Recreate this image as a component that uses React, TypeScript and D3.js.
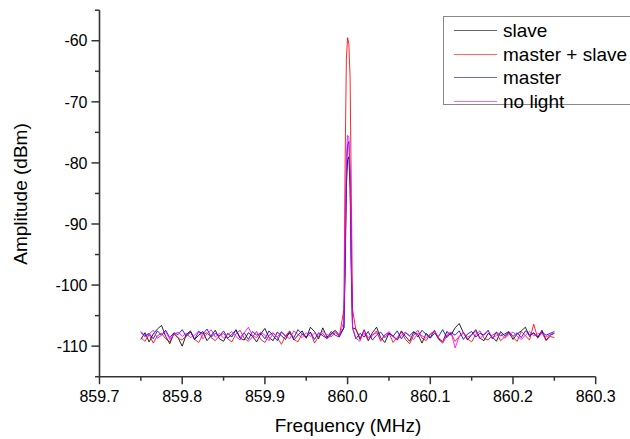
import React from "react";
import * as d3 from "d3";

// ---- data ----
const sweepStart = 859.75;
const sweepStep = 0.005;

const seriesNames = ["slave", "master + slave", "master", "no light"];
const seriesColors = ["#000000", "#ff0000", "#0000ff", "#ff00ff"];

const slaveNoise = [
  -108.9, -107.8, -109.3, -108.0, -107.2, -106.6, -108.4, -109.6, -107.9, -108.6,
  -110.0, -108.1, -107.5, -108.9, -108.2, -107.6, -109.1, -108.3, -107.4, -108.8,
  -109.2, -107.9, -108.5, -107.3, -108.7, -109.0, -107.8, -108.4, -109.3, -108.0,
  -107.1, -108.6, -109.1, -107.7, -108.3, -108.9, -107.6, -109.0, -108.2, -107.5,
  -108.7, -106.9, -107.6, -108.8, -107.0, -108.5, -108.0, -107.4, -108.2, -108.1,
  -108.0, -107.6, -107.2, -108.9, -107.3, -109.1, -107.8, -106.9, -108.6, -109.4,
  -107.9, -108.3, -109.0, -107.5, -108.4, -109.2, -107.7, -108.1, -109.5, -107.9,
  -108.6, -107.4, -108.8, -109.3, -107.6, -108.2, -107.0, -106.3, -107.8, -109.0,
  -108.1, -107.3, -108.7, -109.1, -107.9, -108.5, -109.2, -107.6, -108.3, -107.7,
  -108.9, -108.0, -107.5, -106.9, -108.4, -107.8, -108.6, -107.4, -109.0, -108.2,
  -107.9,
];
const masterSlaveNoise = [
  -108.6, -109.2, -108.1, -109.5, -108.3, -107.9, -108.8, -109.3, -108.0, -108.7,
  -109.0, -108.2, -107.6, -108.9, -109.4, -108.1, -107.8, -108.6, -109.1, -108.3,
  -107.9, -108.8, -109.3, -108.0, -107.4, -108.7, -109.2, -108.5, -107.6, -108.9,
  -109.4, -108.2, -107.8, -108.6, -109.7, -108.3, -107.5, -108.9, -109.3, -108.0,
  -108.6, -107.7, -109.5, -108.4, -107.9, -108.8, -108.2, -107.6, -108.4, -108.0,
  -108.0, -105.8, -107.3, -108.6, -107.9, -109.0, -108.3, -107.5, -109.2, -108.1,
  -107.8, -109.4, -108.6, -107.7, -108.9, -109.6, -108.2, -107.4, -108.7, -109.1,
  -108.0, -107.6, -108.9, -109.5, -108.3, -107.9, -109.2, -108.4, -107.7, -108.8,
  -109.3, -108.1, -107.5, -108.7, -109.0, -108.2, -107.8, -109.1, -108.5, -107.9,
  -108.6, -109.2, -107.6, -108.3, -109.0, -106.4, -108.7, -107.8, -109.1, -108.4,
  -108.6,
];
const masterNoise = [
  -107.6, -108.3, -107.9, -108.8, -107.5, -108.2, -107.4, -108.6, -107.8, -108.1,
  -107.3, -108.4, -107.7, -108.9, -107.6, -108.0, -107.2, -108.5, -107.9, -108.3,
  -107.5, -108.7, -108.1, -107.4, -108.6, -107.8, -108.9, -107.6, -108.2, -107.9,
  -108.8, -107.5, -108.3, -109.1, -107.7, -108.4, -107.9, -108.6, -107.3, -108.0,
  -108.5, -107.7, -108.9, -107.8, -108.3, -108.7, -107.6, -108.2, -108.5, -108.0,
  -108.0, -107.4, -108.8, -107.9, -108.5, -107.6, -109.0, -108.2, -107.7, -108.6,
  -107.9, -108.4, -107.5, -108.8, -107.8, -108.3, -107.6, -108.5, -107.4, -108.1,
  -108.7, -107.9, -108.4, -107.3, -108.6, -107.8, -108.2, -107.5, -108.9, -108.0,
  -107.6, -108.5, -107.9, -108.2, -107.4, -108.8, -107.7, -108.3, -108.0, -107.6,
  -108.4, -107.8, -108.6, -107.5, -108.1, -107.9, -108.5, -107.7, -108.2, -107.9,
  -107.6,
];
const noLightNoise = [
  -107.8, -108.5, -108.0, -107.4, -108.7, -108.2, -107.6, -108.9, -108.1, -107.7,
  -108.4, -107.9, -108.6, -108.2, -107.5, -108.8, -108.0, -107.3, -108.5, -107.9,
  -108.7, -108.1, -107.6, -108.4, -109.0, -107.8, -106.9, -108.3, -108.6, -107.7,
  -108.2, -109.1, -107.9, -108.5, -107.6, -108.3, -108.8, -107.5, -108.1, -108.6,
  -107.8, -108.4, -107.9, -108.2, -107.6, -108.1, -108.5, -107.8, -108.3, -108.0,
  -108.0, -107.9, -108.7, -109.2, -107.4, -108.6, -108.1, -107.8, -108.9, -108.3,
  -107.6, -108.5, -109.0, -108.2, -107.7, -108.4, -108.9, -107.9, -108.3, -108.7,
  -108.0, -107.5, -108.6, -109.3, -108.1, -107.7, -110.3, -108.4, -107.9, -108.5,
  -108.2, -107.6, -108.8, -108.0, -107.5, -108.6, -108.3, -107.9, -108.7, -108.1,
  -107.7, -108.4, -108.9, -108.2, -107.6, -108.3, -108.0, -107.8, -108.5, -108.1,
  -107.8,
];

const peakFreqs = [859.9955, 859.997, 859.9985, 860.0, 860.0015, 860.003, 860.0045, 860.006];
const slavePeak = [-107.0, -98.0, -84.0, -79.5, -79.0, -84.0, -98.0, -107.0];
const masterSlavePeak = [-104.0, -80.0, -63.0, -59.5, -60.5, -66.0, -85.0, -104.0];
const masterPeak = [-107.0, -96.0, -82.0, -77.0, -76.5, -82.0, -97.0, -107.0];
const noLightPeak = [-106.0, -94.0, -79.0, -75.5, -75.8, -81.0, -96.0, -107.0];

const xTickValues = [859.7, 859.8, 859.9, 860.0, 860.1, 860.2, 860.3];
const yTickValues = [-60, -70, -80, -90, -100, -110];

const noiseSets = [slaveNoise, masterSlaveNoise, masterNoise, noLightNoise];
const peakSets = [slavePeak, masterSlavePeak, masterPeak, noLightPeak];

type Pt = { f: number; v: number };

function buildSeries(noise: number[], peak: number[]): Pt[] {
  const lo = peakFreqs[0] - 0.001;
  const hi = peakFreqs[peakFreqs.length - 1] + 0.001;
  const pts: Pt[] = [];
  noise.forEach((v, i) => {
    const f = sweepStart + i * sweepStep;
    if (f < lo || f > hi) pts.push({ f, v });
  });
  peak.forEach((v, i) => pts.push({ f: peakFreqs[i], v }));
  pts.sort((a, b) => a.f - b.f);
  return pts;
}

const W = 630;
const H = 439;
const X0 = 99.5;
const X1 = 595.7;
const Y0 = 376.7; // -115
const Y1 = 10.2; // -55

const FONT = "'Liberation Sans', Arial, Helvetica, sans-serif";

export default function App() {
  const x = d3.scaleLinear().domain([859.7, 860.3]).range([X0, X1]);
  const y = d3.scaleLinear().domain([-115, -55]).range([Y0, Y1]);
  const line = d3
    .line<Pt>()
    .x((d) => x(d.f))
    .y((d) => y(d.v));

  const series = noiseSets.map((n, i) => buildSeries(n, peakSets[i]));

  const xMinor = d3.range(0, 13).map((i) => 859.7 + i * 0.05);
  const yMinor = d3.range(0, 13).map((i) => -115 + i * 5);

  const axisColor = "#333333";

  return (
    <svg
      width={W}
      height={H}
      style={{ position: "absolute", left: 0, top: 0, background: "#fff" }}
      fontFamily={FONT}
    >
      <rect x={0} y={0} width={W} height={H} fill="#fff" />
      {/* series */}
      {series.map((s, i) => (
        <path
          key={i}
          d={line(s) || ""}
          fill="none"
          stroke={seriesColors[i]}
          strokeWidth={1}
          strokeLinejoin="round"
          strokeOpacity={0.85}
        />
      ))}

      {/* axes */}
      <line x1={X0} y1={Y1} x2={X0} y2={Y0} stroke={axisColor} strokeWidth={1.6} />
      <line x1={X0} y1={Y0} x2={X1} y2={Y0} stroke={axisColor} strokeWidth={1.6} />

      {yMinor.map((v, i) => {
        const major = yTickValues.includes(Math.round(v));
        return (
          <line
            key={"ym" + i}
            x1={X0}
            x2={X0 - (major ? 8 : 4.5)}
            y1={y(v)}
            y2={y(v)}
            stroke={axisColor}
            strokeWidth={1.5}
          />
        );
      })}
      {xMinor.map((v, i) => {
        const major = i % 2 === 0;
        return (
          <line
            key={"xm" + i}
            x1={x(v)}
            x2={x(v)}
            y1={Y0}
            y2={Y0 + (major ? 7.5 : 4)}
            stroke={axisColor}
            strokeWidth={1.5}
          />
        );
      })}

      {yTickValues.map((v) => (
        <text
          key={"yt" + v}
          x={87.5}
          y={y(v) + 5.7}
          textAnchor="end"
          fontSize={16}
          fill="#000"
        >
          {String(v)}
        </text>
      ))}
      {xTickValues.map((v) => (
        <text
          key={"xt" + v}
          x={x(v)}
          y={402}
          textAnchor="middle"
          fontSize={16}
          fill="#000"
        >
          {v.toFixed(1)}
        </text>
      ))}

      <text x={348} y={432} textAnchor="middle" fontSize={19} fill="#000">
        Frequency (MHz)
      </text>
      <text
        transform="translate(27,194) rotate(-90)"
        textAnchor="middle"
        fontSize={19}
        fill="#000"
      >
        Amplitude (dBm)
      </text>

      {/* legend */}
      <rect
        x={443.5}
        y={16.5}
        width={200}
        height={88}
        fill="#fff"
        stroke="#888"
        strokeWidth={1}
      />
      {seriesNames.map((name, i) => {
        const ly = Math.round(30 + i * 23.6) + 0.5;
        return (
          <g key={"lg" + i}>
            <line
              x1={454}
              x2={497}
              y1={ly}
              y2={ly}
              stroke={seriesColors[i]}
              strokeWidth={1}
              strokeOpacity={0.6}
            />
            <text x={503} y={ly + 6.5} fontSize={19} fill="#000">
              {name}
            </text>
          </g>
        );
      })}
    </svg>
  );
}
